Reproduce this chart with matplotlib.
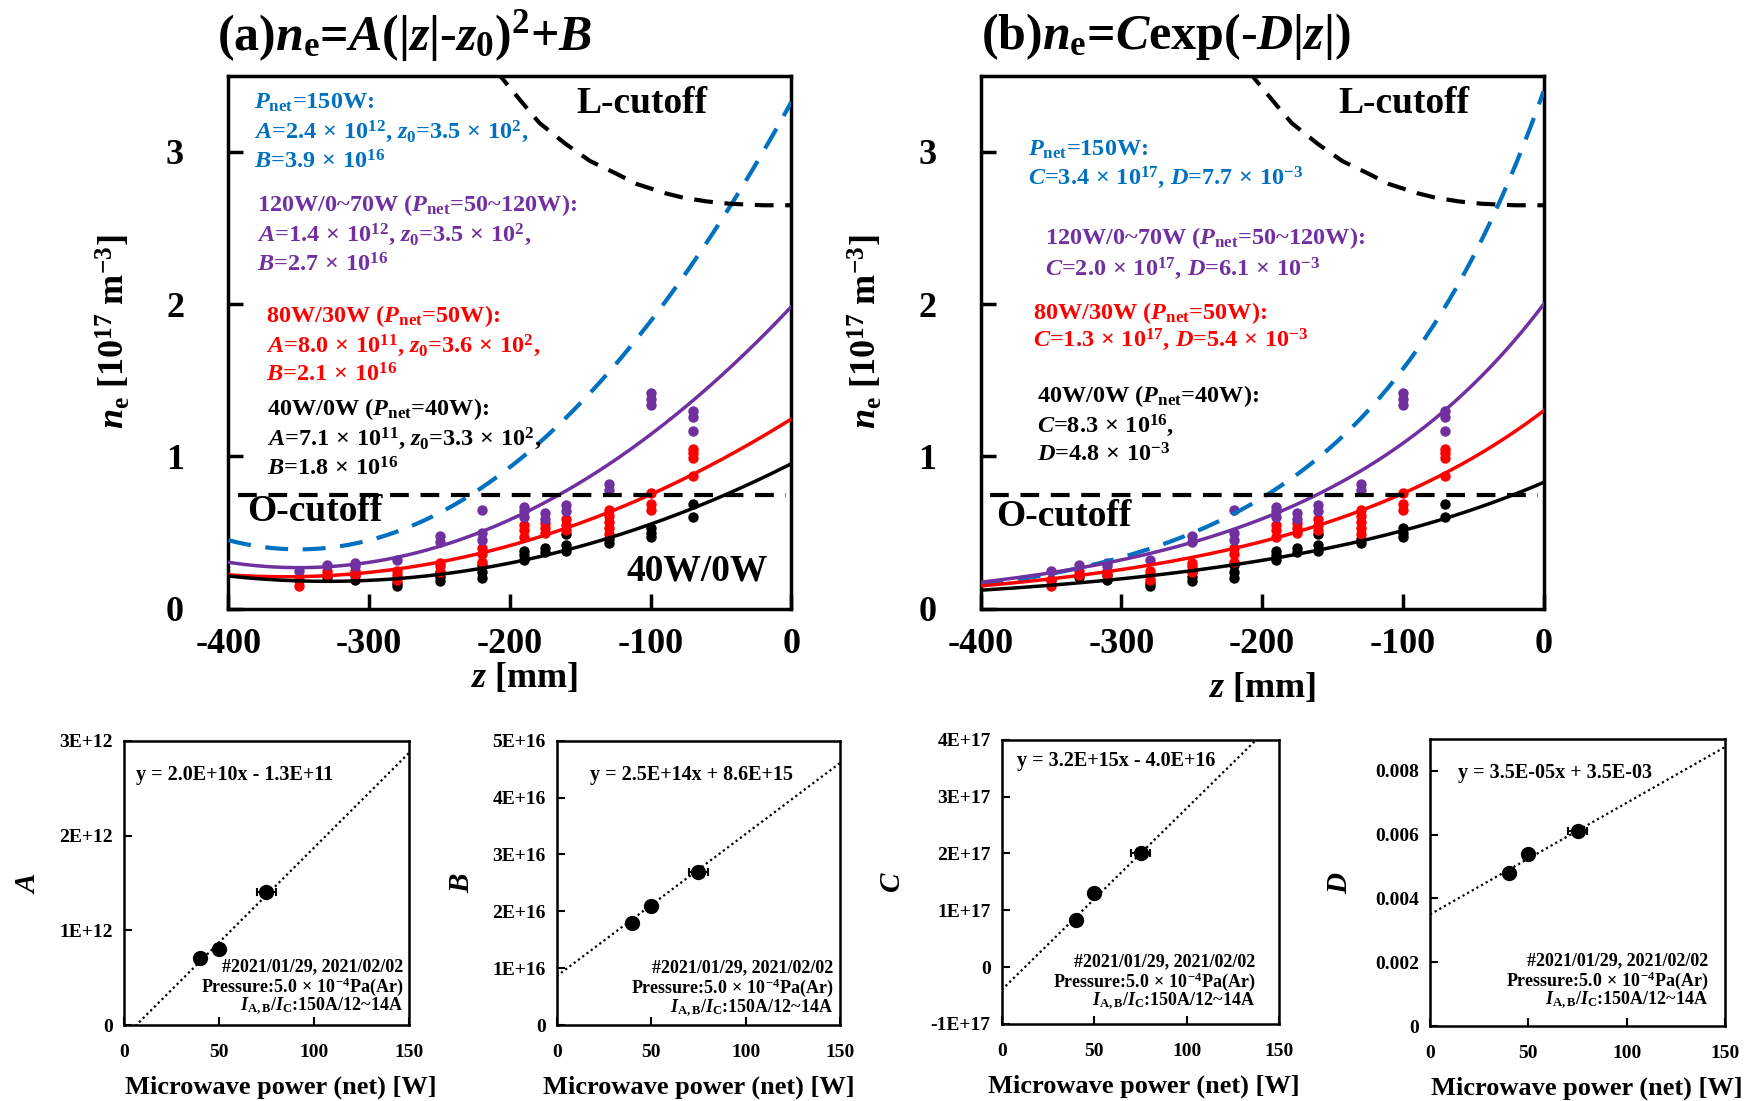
import numpy as np
import matplotlib.pyplot as plt

plt.rcParams['font.family'] = 'Liberation Serif'
plt.rcParams['font.weight'] = 'bold'
plt.rcParams['axes.labelweight'] = 'bold'
plt.rcParams['axes.unicode_minus'] = False
plt.rcParams['mathtext.fontset'] = 'custom'
plt.rcParams['mathtext.rm'] = 'Liberation Serif:bold'
plt.rcParams['mathtext.it'] = 'Liberation Serif:italic:bold'
plt.rcParams['mathtext.bf'] = 'Liberation Serif:bold'

# fit parameters: 150W, 120W/0~70W, 80W/30W, 40W/0W
cols = ['#0070C0', '#7030A0', '#FF0000', 'black']
A_fit = [2.4e12, 1.4e12, 8.0e11, 7.1e11]
z0_fit = [3.5e2, 3.5e2, 3.6e2, 3.3e2]
B_fit = [3.9e16, 2.7e16, 2.1e16, 1.8e16]
C_fit = [3.4e17, 2.0e17, 1.3e17, 8.3e16]
D_fit = [7.7e-3, 6.1e-3, 5.4e-3, 4.8e-3]

# measured n_e [1e17 m^-3] vs z [mm]
z_black = [-350, -330, -310, -310, -280, -280, -250, -250, -250, -220, -220, -220,
           -190, -190, -190, -175, -175, -160, -160, -160, -130, -130,
           -100, -100, -100, -70, -70]
ne_black = [0.19, 0.21, 0.19, 0.22, 0.15, 0.17, 0.18, 0.21, 0.24, 0.20, 0.24, 0.29,
            0.32, 0.35, 0.38, 0.37, 0.40, 0.38, 0.42, 0.49, 0.43, 0.46,
            0.47, 0.50, 0.53, 0.60, 0.69]
z_red = [-350, -350, -330, -330, -310, -310, -280, -280, -280, -250, -250, -250,
         -220, -220, -220, -190, -190, -190, -175, -175, -175, -160, -160, -160,
         -130, -130, -130, -130, -130, -100, -100, -100, -70, -70, -70, -70]
ne_red = [0.15, 0.19, 0.22, 0.25, 0.22, 0.25, 0.19, 0.22, 0.25, 0.24, 0.28, 0.30,
          0.31, 0.36, 0.40, 0.47, 0.52, 0.55, 0.50, 0.53, 0.56, 0.52, 0.55, 0.59,
          0.49, 0.53, 0.57, 0.61, 0.65, 0.65, 0.69, 0.76, 0.87, 0.99, 1.02, 1.05]
z_purple = [-350, -330, -310, -310, -280, -250, -250, -220, -220, -220,
            -190, -190, -190, -175, -175, -160, -160, -130, -130,
            -100, -100, -100, -70, -70, -70]
ne_purple = [0.25, 0.29, 0.28, 0.30, 0.32, 0.44, 0.48, 0.45, 0.50, 0.65,
             0.60, 0.64, 0.67, 0.59, 0.63, 0.64, 0.68, 0.78, 0.82,
             1.34, 1.38, 1.42, 1.17, 1.26, 1.30]

# cutoff densities
z_L = [-225, -207, -190, -179, -160, -143, -125, -110, -90, -77, -60, -44, -20, 0]
ne_L = [3.68, 3.50, 3.31, 3.19, 3.05, 2.94, 2.86, 2.79, 2.73, 2.70, 2.675, 2.66, 2.65, 2.65]
ne_O = 0.75

# power dependence of the fit parameters
P_net = [40, 50, 75]
P_err = [0, 0, 5]
slope = [2.0e10, 2.5e14, 3.2e15, 3.5e-5]
icpt = [-1.3e11, 8.6e15, -4.0e16, 3.5e-3]
eqs = ['y = 2.0E+10x - 1.3E+11', 'y = 2.5E+14x + 8.6E+15',
       'y = 3.2E+15x - 4.0E+16', 'y = 3.5E-05x + 3.5E-03']
par_names = ['A', 'B', 'C', 'D']
par_vals = [A_fit[::-1][:3], B_fit[::-1][:3], C_fit[::-1][:3], D_fit[::-1][:3]]
yticks = [[0, 1e12, 2e12, 3e12], [0, 1e16, 2e16, 3e16, 4e16, 5e16],
          [-1e17, 0, 1e17, 2e17, 3e17, 4e17], [0, 0.002, 0.004, 0.006, 0.008]]
yticklabels = [['0', '1E+12', '2E+12', '3E+12'],
               ['0', '1E+16', '2E+16', '3E+16', '4E+16', '5E+16'],
               ['-1E+17', '0', '1E+17', '2E+17', '3E+17', '4E+17'],
               ['0', '0.002', '0.004', '0.006', '0.008']]
ylims = [(0, 3e12), (0, 5e16), (-1e17, 4e17), (0, 0.009)]

X = r'$\,\times\,$'
txt_a = [
    (0.046, [(r'$\mathit{P}_\mathrm{net}$=150W:', 0.950),
             (r'$\mathit{A}$=2.4' + X + r'10$^{12}$, $\mathit{z}_0$=3.5' + X + r'10$^{2}$,', 0.895),
             (r'$\mathit{B}$=3.9' + X + r'10$^{16}$', 0.839)]),
    (0.050, [(r'120W/0~70W ($\mathit{P}_\mathrm{net}$=50~120W):', 0.757),
             (r'$\mathit{A}$=1.4' + X + r'10$^{12}$, $\mathit{z}_0$=3.5' + X + r'10$^{2}$,', 0.701),
             (r'$\mathit{B}$=2.7' + X + r'10$^{16}$', 0.646)]),
    (0.067, [(r'80W/30W ($\mathit{P}_\mathrm{net}$=50W):', 0.550),
             (r'$\mathit{A}$=8.0' + X + r'10$^{11}$, $\mathit{z}_0$=3.6' + X + r'10$^{2}$,', 0.494),
             (r'$\mathit{B}$=2.1' + X + r'10$^{16}$', 0.439)]),
    (0.069, [(r'40W/0W ($\mathit{P}_\mathrm{net}$=40W):', 0.374),
             (r'$\mathit{A}$=7.1' + X + r'10$^{11}$, $\mathit{z}_0$=3.3' + X + r'10$^{2}$,', 0.318),
             (r'$\mathit{B}$=1.8' + X + r'10$^{16}$', 0.262)]),
]
txt_b = [
    (0.085, [(r'$\mathit{P}_\mathrm{net}$=150W:', 0.862),
             (r'$\mathit{C}$=3.4' + X + r'10$^{17}$, $\mathit{D}$=7.7' + X + r'10$^{-3}$', 0.808)]),
    (0.115, [(r'120W/0~70W ($\mathit{P}_\mathrm{net}$=50~120W):', 0.695),
             (r'$\mathit{C}$=2.0' + X + r'10$^{17}$, $\mathit{D}$=6.1' + X + r'10$^{-3}$', 0.638)]),
    (0.093, [(r'80W/30W ($\mathit{P}_\mathrm{net}$=50W):', 0.554),
             (r'$\mathit{C}$=1.3' + X + r'10$^{17}$, $\mathit{D}$=5.4' + X + r'10$^{-3}$', 0.504)]),
    (0.101, [(r'40W/0W ($\mathit{P}_\mathrm{net}$=40W):', 0.400),
             (r'$\mathit{C}$=8.3' + X + r'10$^{16}$,', 0.343),
             (r'$\mathit{D}$=4.8' + X + r'10$^{-3}$', 0.289)]),
]

fig = plt.figure(figsize=(17.48, 11.01), dpi=100)
axa = fig.add_axes([0.1307, 0.4471, 0.3221, 0.4840])
axb = fig.add_axes([0.5610, 0.4471, 0.3221, 0.4840])

z = np.linspace(-400, 0, 300)
for k, (ax, txt) in enumerate([(axa, txt_a), (axb, txt_b)]):
    ax.plot(z_black, ne_black, 'o', c='black', ms=7.5, mew=0, zorder=2)
    ax.plot(z_red, ne_red, 'o', c=cols[2], ms=7.5, mew=0, zorder=2)
    ax.plot(z_purple, ne_purple, 'o', c=cols[1], ms=7.5, mew=0, zorder=2)
    for i in range(4):
        if k == 0:
            ne = (A_fit[i] * (np.abs(z) - z0_fit[i]) ** 2 + B_fit[i]) / 1e17
        else:
            ne = C_fit[i] * np.exp(-D_fit[i] * np.abs(z)) / 1e17
        if i == 0:
            ax.plot(z, ne, c=cols[i], lw=3, ls=(0, (5.5, 3.5)), zorder=3)
        else:
            ax.plot(z, ne, c=cols[i], lw=2.5, zorder=3)
    ax.plot(z_L, ne_L, c='black', lw=3, ls=(0, (4.5, 2.8)), zorder=3)
    ax.plot([-393, -4], [ne_O, ne_O], c='black', lw=3, ls=(0, (4.5, 2.8)), zorder=3)
    ax.set_xlim(-400, 0)
    ax.set_ylim(0, 3.5)
    ax.set_xticks([-400, -300, -200, -100, 0])
    ax.set_yticks([0, 1, 2, 3])
    ax.tick_params(direction='in', length=11, width=2.5, labelsize=26)
    ax.tick_params(axis='y', pad=32)
    ax.tick_params(axis='x', pad=14)
    for s in ax.spines.values():
        s.set_linewidth(2.5)
    ax.set_xlabel(r'$\mathit{z}$ [mm]', fontsize=26, labelpad=0 if k == 0 else 7)
    ax.set_ylabel(r'$\mathit{n}_\mathrm{e}$ [10$^{17}$ m$^{-3}$]', fontsize=26)
    ax.yaxis.set_label_coords(-0.17, 0.52)
    for i, (x0, lines) in enumerate(txt):
        for s, y0 in lines:
            ax.text(x0, y0, s, color=cols[i], fontsize=17.5, va='center', transform=ax.transAxes)
    ax.text(0.618 if k == 0 else 0.636, 0.948, 'L-cutoff', fontsize=27, va='center',
            transform=ax.transAxes)
    ax.text(0.034 if k == 0 else 0.028, 0.182 if k == 0 else 0.174, 'O-cutoff', fontsize=27,
            va='center', transform=ax.transAxes)
axa.text(0.707, 0.071, '40W/0W', fontsize=27, va='center', transform=axa.transAxes)
axa.xaxis.label.set_x(0.525)

fig.text(217 / 1748, 1 - 36 / 1101, r'(a)$\mathit{n}_\mathrm{e}$=$\mathit{A}$(|$\mathit{z}$|-$\mathit{z}_0$)$^2$+$\mathit{B}$',
         fontsize=36, va='center')
fig.text(981 / 1748, 1 - 36 / 1101, r'(b)$\mathit{n}_\mathrm{e}$=$\mathit{C}$exp(-$\mathit{D}$|$\mathit{z}$|)',
         fontsize=36, va='center')

# lower row: fit parameters vs net power
boxes = [[0.0709, 0.0690, 0.1630, 0.2582], [0.3185, 0.0690, 0.1621, 0.2582],
         [0.5731, 0.0700, 0.1588, 0.2580], [0.8181, 0.0681, 0.1688, 0.2607]]
eq_pos = [(0.042, 0.879), (0.118, 0.879), (0.054, 0.924), (0.096, 0.880)]
note_pos = [(0.979, 0.205), (0.976, 0.200), (0.912, 0.219), (0.942, 0.228)]
ylab_x = [-0.29, -0.29, -0.345, -0.26]
xlab_x = [0.55, 0.5, 0.51, 0.53]
notes = ['#2021/01/29, 2021/02/02', r'Pressure:5.0' + X + r'10$^{-4}$Pa(Ar)',
         r'$\mathit{I}_\mathrm{A,B}$/$\mathit{I}_\mathrm{C}$:150A/12~14A']
P = np.linspace(0, 150, 200)
for j in range(4):
    ax = fig.add_axes(boxes[j])
    ax.plot(P, slope[j] * P + icpt[j], c='black', lw=1.6, ls=(0, (1, 1.4)))
    ax.errorbar(P_net, par_vals[j], xerr=P_err, fmt='o', c='black', ms=10,
                elinewidth=1.5, capsize=3, capthick=1.5)
    ax.set_xlim(0, 150)
    ax.set_ylim(*ylims[j])
    ax.set_xticks([0, 50, 100, 150])
    ax.set_yticks(yticks[j])
    ax.set_yticklabels(yticklabels[j])
    ax.tick_params(direction='in', length=6, width=1.5, labelsize=14)
    ax.tick_params(axis='y', pad=8)
    ax.tick_params(axis='x', pad=14)
    for s in ax.spines.values():
        s.set_linewidth(1.8)
    ax.set_xlabel('Microwave power (net) [W]', fontsize=19, labelpad=10)
    ax.xaxis.label.set_x(xlab_x[j])
    ax.set_ylabel(r'$\mathit{%s}$' % par_names[j], fontsize=21)
    ax.yaxis.set_label_coords(ylab_x[j], 0.5)
    ax.text(eq_pos[j][0], eq_pos[j][1], eqs[j], fontsize=14.5, va='center', transform=ax.transAxes)
    for n, s in enumerate(notes):
        ax.text(note_pos[j][0], note_pos[j][1] - 0.07 * n, s, fontsize=13, ha='right',
                va='center', transform=ax.transAxes)

plt.savefig('out.png', dpi=100)
